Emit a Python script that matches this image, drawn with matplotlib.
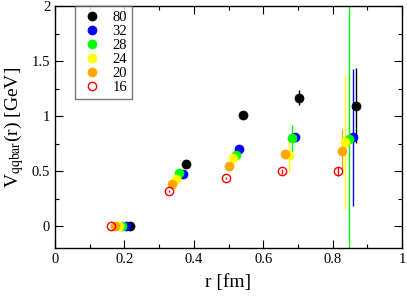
import matplotlib
matplotlib.use("Agg")
import matplotlib.pyplot as plt
from matplotlib.ticker import MultipleLocator, FuncFormatter
from matplotlib.lines import Line2D

plt.rcParams['font.family'] = ['Liberation Serif', 'DejaVu Serif']
plt.rcParams['mathtext.fontset'] = 'stix'

labels = ['80', '32', '28', '24', '20', '16']
colors = ['black', '#0000ff', '#00ff00', '#ffff00', '#ffa500', '#ff0000']
r_vals = {
    '80': [0.215, 0.378, 0.542, 0.703, 0.866],
    '32': [0.204, 0.368, 0.531, 0.693, 0.858],
    '28': [0.194, 0.357, 0.522, 0.683, 0.847],
    '24': [0.183, 0.348, 0.512, 0.675, 0.836],
    '20': [0.172, 0.337, 0.501, 0.662, 0.826],
    '16': [0.161, 0.328, 0.492, 0.653, 0.817],
}
v_vals = {
    '80': [0.0, 0.561, 1.012, 1.166, 1.094],
    '32': [0.0, 0.470, 0.703, 0.812, 0.806],
    '28': [0.0, 0.479, 0.645, 0.797, 0.788],
    '24': [0.0, 0.430, 0.621, 0.643, 0.767],
    '20': [0.0, 0.382, 0.548, 0.652, 0.685],
    '16': [0.0, 0.318, 0.439, 0.497, 0.497],
}
v_errs = {
    '80': [0.0, 0.01, 0.01, 0.07, 0.34],
    '32': [0.0, 0.01, 0.01, 0.03, 0.62],
    '28': [0.0, 0.01, 0.01, 0.12, 3.0],
    '24': [0.0, 0.01, 0.01, 0.15, 0.61],
    '20': [0.0, 0.01, 0.01, 0.02, 0.20],
    '16': [0.0, 0.01, 0.01, 0.02, 0.04],
}

fig = plt.figure(figsize=(4.07, 2.99), dpi=100)
ax = fig.add_axes([55/407, 1 - 248/299, (402-55)/407, (248-6)/299])

handles = []
for lab, col in zip(labels, colors):
    if lab == '16':
        ax.errorbar(r_vals[lab], v_vals[lab], yerr=v_errs[lab], fmt='o', ms=6,
                    mfc='none', mec=col, mew=1.0, ecolor=col, elinewidth=1.0,
                    capsize=0)
        handles.append(Line2D([], [], ls='none', marker='o', ms=6, mfc='none',
                              mec=col, mew=1.0, label=lab))
    else:
        ax.errorbar(r_vals[lab], v_vals[lab], yerr=v_errs[lab], fmt='o', ms=6.5,
                    mfc=col, mec=col, mew=0.5, ecolor=col, elinewidth=1.0,
                    capsize=0)
        handles.append(Line2D([], [], ls='none', marker='o', ms=6.5, mfc=col,
                              mec=col, mew=0.5, label=lab))

ax.set_xlim(0, 1)
ax.set_ylim(-0.2, 2)
ax.xaxis.set_major_locator(MultipleLocator(0.2))
ax.xaxis.set_minor_locator(MultipleLocator(0.1))
ax.yaxis.set_major_locator(MultipleLocator(0.5))
ax.yaxis.set_minor_locator(MultipleLocator(0.25))
fmt = FuncFormatter(lambda v, p: '%g' % round(v, 3))
ax.xaxis.set_major_formatter(fmt)
ax.yaxis.set_major_formatter(fmt)
ax.tick_params(which='both', direction='in', top=True, right=True, labelsize=10.5)
ax.tick_params(which='major', length=6, width=0.8)
ax.tick_params(which='minor', length=3, width=0.8)
for s in ax.spines.values():
    s.set_linewidth(1.0)

ax.set_xlabel('r [fm]', fontsize=14, labelpad=6)
ax.set_ylabel(r'V$_{\mathrm{qqbar}}$(r) [GeV]', fontsize=14, labelpad=4)

leg = ax.legend(handles=handles, loc='upper left', bbox_to_anchor=(0.058, 1.0),
                fontsize=10.5, frameon=True, fancybox=False, borderaxespad=0,
                handletextpad=0.6, labelspacing=0.05, borderpad=0.35,
                handlelength=1.6, numpoints=1)
leg.get_frame().set_edgecolor('#555555')
leg.get_frame().set_linewidth(1.0)

fig.savefig('out.png', dpi=100)
